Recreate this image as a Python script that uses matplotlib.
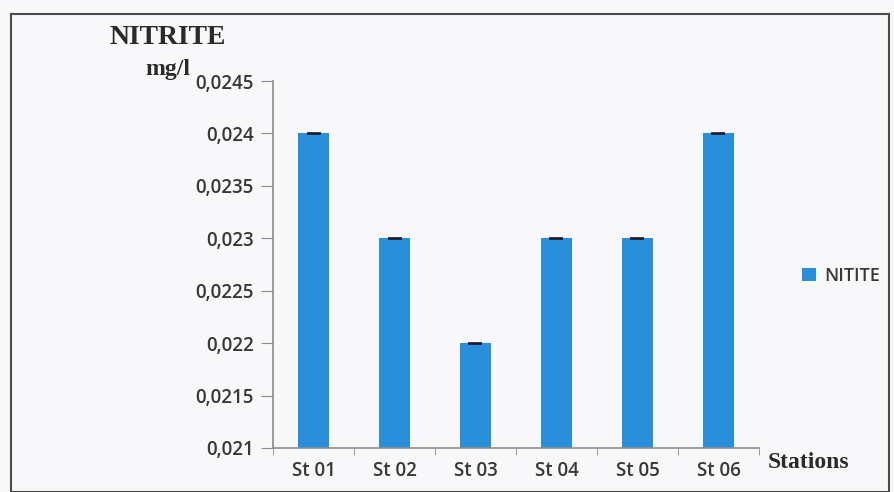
import matplotlib
matplotlib.use("Agg")
import matplotlib.pyplot as plt
from matplotlib.patches import Rectangle

stations = ["St 01", "St 02", "St 03", "St 04", "St 05", "St 06"]
nitrite = [0.024, 0.023, 0.022, 0.023, 0.023, 0.024]
errors = [0.000004, 0.000004, 0.000004, 0.000004, 0.000004, 0.000004]
yticks = [0.021, 0.0215, 0.022, 0.0225, 0.023, 0.0235, 0.024, 0.0245]
ytick_labels = ["0,021", "0,0215", "0,022", "0,0225", "0,023", "0,0235", "0,024", "0,0245"]
series_name = "NITITE"

bg = "#f8f8fa"
bar_color = "#2a8fda"
txt = "#383838"
spine_c = "#8c8c8c"

fig = plt.figure(figsize=(8.95, 4.92), dpi=100, facecolor=bg)
ax = fig.add_axes([273/895, 1-448/492, (759-273)/895, (448-81)/492])
ax.set_facecolor(bg)

x = list(range(len(stations)))
bars = ax.bar(x, nitrite, width=0.39, color=bar_color, label=series_name, zorder=2)
ax.errorbar(x, nitrite, yerr=errors, fmt="none", ecolor="#1a1a2a", capsize=5, elinewidth=1, capthick=1.2, zorder=3)

ax.set_ylim(0.021, 0.0245)
ax.set_xlim(-0.5, len(stations)-0.5)
ax.set_yticks(yticks)
ax.set_yticklabels(ytick_labels, fontsize=13.5, color=txt, family="Open Sans", fontweight="semibold")
ax.set_xticks(x)
ax.set_xticklabels(stations, fontsize=13.5, color=txt, family="Open Sans", fontweight="semibold")
ax.set_xticks([i - 0.5 for i in range(len(stations)+1)], minor=True)
ax.tick_params(axis="x", which="major", length=0, pad=9)
ax.tick_params(axis="x", which="minor", length=5, color=spine_c, direction="out")
ax.tick_params(axis="y", length=9, color=spine_c, direction="out", pad=5)

for s in ["top", "right"]:
    ax.spines[s].set_visible(False)
for s in ["left", "bottom"]:
    ax.spines[s].set_color(spine_c)
    ax.spines[s].set_linewidth(1.2)

fig.text(168/895, 1-38/492, "NITRITE", fontsize=20, fontweight="bold", family="Liberation Serif",
         color="#2a2a2a", ha="center", va="center")
fig.text(168/895, 1-70/492, "mg/l", fontsize=17, fontweight="bold", family="Liberation Serif",
         color="#2a2a2a", ha="center", va="center")
fig.text(809/895, 1-462/492, "Stations", fontsize=17, fontweight="bold", family="Liberation Serif",
         color="#2a2a2a", ha="center", va="center")

leg = fig.legend(handles=[bars], labels=[series_name], loc="center left",
                 bbox_to_anchor=(786/895, 1-276/492), frameon=False,
                 handlelength=0.75, handleheight=0.75, handletextpad=0.45,
                 prop={"family": "Open Sans", "size": 13, "weight": "semibold"})
for t in leg.get_texts():
    t.set_color(txt)

fig.patches.append(Rectangle((11/895, 0), (889-11)/895, (492-14)/492, transform=fig.transFigure,
                             fill=False, edgecolor="#4a4a4a", linewidth=1.5))

fig.savefig("out.png", dpi=100, facecolor=bg)
